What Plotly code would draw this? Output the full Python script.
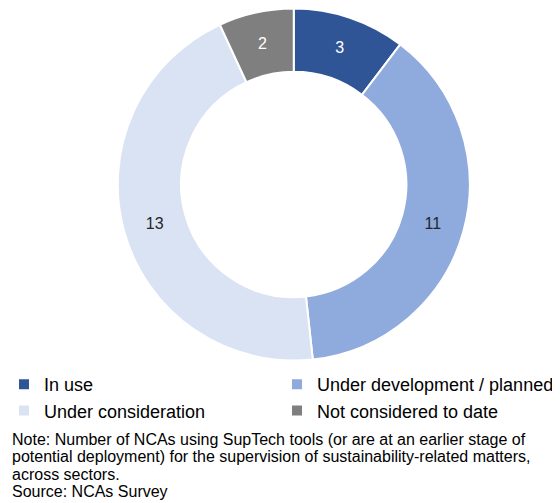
import plotly.graph_objects as go

categories = ["In use", "Under development / planned", "Under consideration", "Not considered to date"]
values = [3, 11, 13, 2]
colors = ["#2F5597", "#8FAADC", "#DAE3F3", "#7F7F7F"]
text_colors = ["#FFFFFF", "#262626", "#262626", "#FFFFFF"]

note_lines = [
    "Note: Number of NCAs using SupTech tools (or are at an earlier stage of",
    "potential deployment) for the supervision of sustainability-related matters,",
    "across sectors.",
    "Source: NCAs Survey",
]

# The page body has an 8px default margin, so the figure is sized to the visible area
OFF = 8
W, H = 560 - OFF, 503 - OFF


def px_x(x):
    return (x - OFF) / W


def px_y(y):
    return 1 - (y - OFF) / H


fig = go.Figure(go.Pie(
    labels=categories,
    values=values,
    hole=0.64,
    sort=False,
    direction="clockwise",
    rotation=0,
    marker=dict(colors=colors, line=dict(color="#FFFFFF", width=2)),
    textinfo="value",
    textposition="inside",
    insidetextorientation="horizontal",
    insidetextfont=dict(color=text_colors, size=16, family="Liberation Sans, Arial"),
    domain=dict(x=[px_x(117.5), px_x(470)], y=[px_y(360.5), px_y(8.5)]),
    hoverinfo="label+value",
))

annotations = []
line_y = [439, 456.5, 474, 491.5]
for txt, yy in zip(note_lines, line_y):
    annotations.append(dict(
        text=txt, x=px_x(10), y=px_y(yy), xref="paper", yref="paper",
        xanchor="left", yanchor="middle", align="left", showarrow=False,
        font=dict(size=16, color="#000000", family="Liberation Sans, Arial"),
    ))

fig.update_layout(
    width=W, height=H,
    margin=dict(l=0, r=0, t=0, b=0),
    paper_bgcolor="white",
    plot_bgcolor="white",
    font=dict(family="Liberation Sans, Arial", color="#000000"),
    showlegend=True,
    legend=dict(
        orientation="h",
        x=8 / W, xanchor="left",
        y=px_y(366), yanchor="top",
        indentation=-10,
        entrywidth=238, entrywidthmode="pixels",
        font=dict(size=18, color="#000000"),
        itemwidth=30,
        traceorder="normal",
        bgcolor="rgba(0,0,0,0)",
    ),
    annotations=annotations,
)

fig.write_html("out.html")
